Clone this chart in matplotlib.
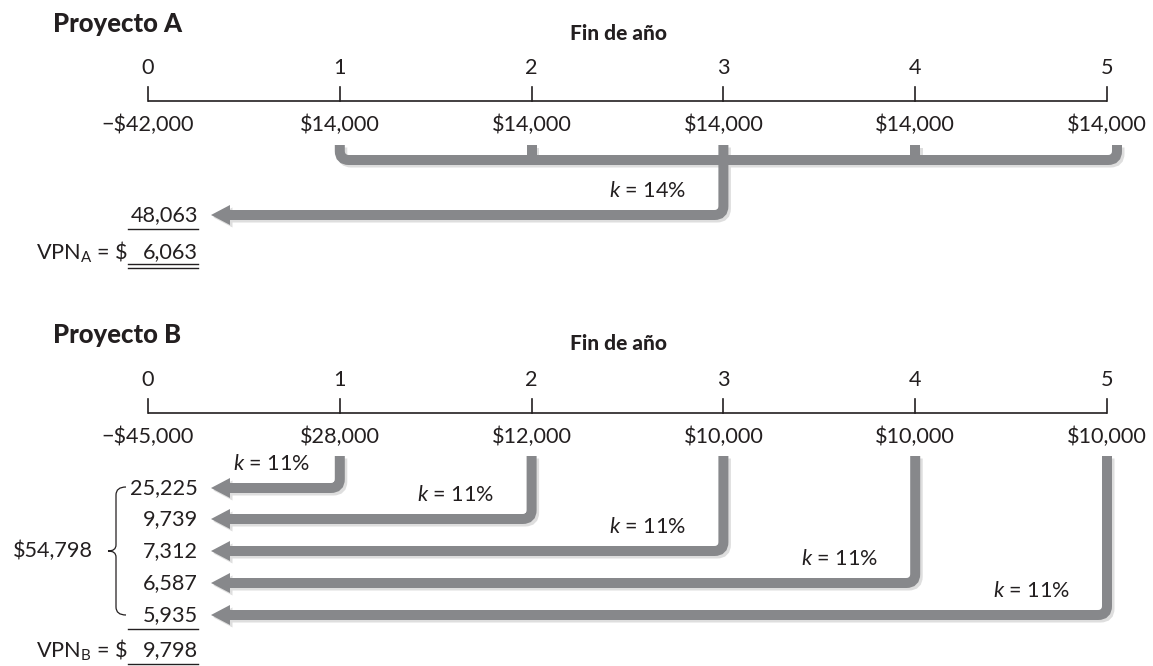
import matplotlib
matplotlib.use('Agg')
import matplotlib.pyplot as plt
from matplotlib.path import Path
from matplotlib.patches import PathPatch, Polygon

plt.rcParams['font.family'] = ['Lato', 'DejaVu Sans']
plt.rcParams['mathtext.fontset'] = 'custom'
plt.rcParams['mathtext.rm'] = 'Lato'
plt.rcParams['mathtext.it'] = 'Lato:italic'

# data
years = [0, 1, 2, 3, 4, 5]
cash_a = [-42000, 14000, 14000, 14000, 14000, 14000]
rate_a = 14
pv_a = 48063
npv_a = 6063

cash_b = [-45000, 28000, 12000, 10000, 10000, 10000]
rate_b = 11
pv_b = [25225, 9739, 7312, 6587, 5935]
pv_b_total = 54798
npv_b = 9798

# layout (pixels)
X0, DX = 148, 191.8
INK = '#231f20'
GREY = '#87888b'
SHADOW = '#dedede'
BAR = 7.2  # 10 px
NUM_R = 198
TIP_X, HEAD_L, HEAD_H = 211, 19, 20
FS = 15.6


def xy(year):
    return X0 + year * DX


def money(v):
    s = '${:,}'.format(abs(v))
    return '\u2212' + s if v < 0 else s


def rounded(points, r=9):
    verts, codes = [points[0]], [Path.MOVETO]
    for i in range(1, len(points) - 1):
        (x0, y0), (x1, y1), (x2, y2) = points[i - 1], points[i], points[i + 1]
        d0 = ((x1 - x0) ** 2 + (y1 - y0) ** 2) ** .5
        d1 = ((x2 - x1) ** 2 + (y2 - y1) ** 2) ** .5
        a = (x1 - (x1 - x0) * r / d0, y1 - (y1 - y0) * r / d0)
        b = (x1 + (x2 - x1) * r / d1, y1 + (y2 - y1) * r / d1)
        verts += [a, (x1, y1), b]
        codes += [Path.LINETO, Path.CURVE3, Path.CURVE3]
    verts.append(points[-1])
    codes.append(Path.LINETO)
    return Path(verts, codes)


def bar(ax, points, r=9):
    for dx, col, z in ((2.5, SHADOW, 1), (0, GREY, 2)):
        pts = [(x + dx, y + dx) for x, y in points]
        ax.add_patch(PathPatch(rounded(pts, r), fill=False, lw=BAR, color=col,
                               capstyle='butt', joinstyle='miter', zorder=z))


def arrow(ax, x_from, y_top, y_row):
    bar(ax, [(x_from, y_top), (x_from, y_row), (TIP_X + HEAD_L - 1, y_row)])
    for dx, col, z in ((2.5, SHADOW, 1), (0, GREY, 2)):
        ax.add_patch(Polygon([(TIP_X + dx, y_row + dx),
                              (TIP_X + HEAD_L + dx, y_row - HEAD_H / 2 + dx),
                              (TIP_X + HEAD_L + dx, y_row + HEAD_H / 2 + dx)],
                             closed=True, color=col, lw=0, zorder=z))


def timeline(ax, title, y_title, y_line, cash):
    ax.text(53, y_title, title, fontsize=18.5, fontweight='black', color=INK,
            ha='left', va='center')
    ax.text(618, y_title + 9, 'Fin de año', fontsize=15, fontweight='black',
            color=INK, ha='center', va='center')
    ax.plot([xy(0), xy(5)], [y_line, y_line], color=INK, lw=1.2,
            solid_capstyle='butt')
    for yr, v in zip(years, cash):
        ax.plot([xy(yr), xy(yr)], [y_line - 14, y_line], color=INK, lw=1.2)
        ax.text(xy(yr), y_line - 33, str(yr), fontsize=FS, color=INK,
                ha='center', va='center')
        ax.text(xy(yr), y_line + 24, money(v), fontsize=FS, color=INK,
                ha='center', va='center')


def k_label(ax, x_vert, y_row, rate):
    ax.text(x_vert - 37, y_row - 24, r'$k$ = {}%'.format(rate), fontsize=FS,
            color=INK, ha='right', va='center')


def npv(ax, y, label, value, y_lines):
    ax.text(128, y, label + r' = \$', fontsize=FS, color=INK,
            ha='right', va='center')
    ax.text(NUM_R, y, '{:,}'.format(value), fontsize=FS, color=INK,
            ha='right', va='center')
    for yl in y_lines:
        ax.plot([128, NUM_R], [yl, yl], color=INK, lw=1)


fig = plt.figure(figsize=(11.53, 6.66), dpi=100)
ax = fig.add_axes([0, 0, 1, 1])
ax.set_xlim(0, 1153)
ax.set_ylim(666, 0)
ax.axis('off')

# ---- Proyecto A
timeline(ax, 'Proyecto A', 24, 101, cash_a)
top_a, bus_a, row_a = 145, 160, 215
bar(ax, [(xy(1), top_a), (xy(1), bus_a), (xy(5) + 10, bus_a),
         (xy(5) + 10, top_a)])
for yr in (2, 4):
    bar(ax, [(xy(yr), top_a), (xy(yr), bus_a)])
arrow(ax, xy(3), top_a, row_a)
k_label(ax, xy(3), row_a, rate_a)
ax.text(NUM_R, row_a, '{:,}'.format(pv_a), fontsize=FS, color=INK,
        ha='right', va='center')
ax.plot([128, NUM_R], [229, 229], color=INK, lw=1)
npv(ax, 252, r'VPN$_{\mathrm{A}}$', npv_a, [264, 268])

# ---- Proyecto B
timeline(ax, 'Proyecto B', 335, 413, cash_b)
rows_b = [488, 519, 551, 583, 615]
for yr, y_row, v in zip(years[1:], rows_b, pv_b):
    arrow(ax, xy(yr), 456, y_row)
    k_label(ax, xy(yr) + (8 if yr == 1 else 0), y_row, rate_b)
    ax.text(NUM_R, y_row, '{:,}'.format(v), fontsize=FS, color=INK,
            ha='right', va='center')
ax.plot([128, NUM_R], [629, 629], color=INK, lw=1)
npv(ax, 650, r'VPN$_{\mathrm{B}}$', npv_b, [664])

# brace
yb0, yb1 = rows_b[0] - 1, rows_b[-1]
ym = (yb0 + yb1) / 2
brace = Path([(126, yb0), (116, yb0), (116, yb0 + 8), (116, ym - 6),
              (116, ym), (108, ym), (116, ym), (116, ym + 6),
              (116, yb1 - 8), (116, yb1), (126, yb1)],
             [Path.MOVETO, Path.CURVE3, Path.CURVE3, Path.LINETO,
              Path.CURVE3, Path.CURVE3, Path.CURVE3, Path.CURVE3,
              Path.LINETO, Path.CURVE3, Path.CURVE3])
ax.add_patch(PathPatch(brace, fill=False, lw=0.9, color=INK))
ax.text(93, ym, money(pv_b_total), fontsize=FS, color=INK,
        ha='right', va='center')

fig.savefig('out.png', dpi=100)
